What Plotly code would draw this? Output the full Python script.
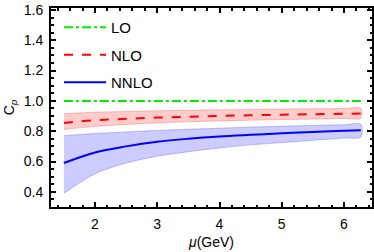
import plotly.graph_objects as go

mu = [1.5, 2.0, 2.5, 3.0, 3.5, 4.0, 4.5, 5.0, 5.5, 6.0, 6.27]
lo = [1.0] * len(mu)
nlo = [0.855, 0.872, 0.882, 0.890, 0.896, 0.901, 0.905, 0.909, 0.912, 0.915, 0.917]
nlo_up = [0.915, 0.925, 0.930, 0.935, 0.938, 0.941, 0.944, 0.946, 0.948, 0.950, 0.951]
nlo_lo = [0.812, 0.832, 0.845, 0.855, 0.862, 0.868, 0.873, 0.877, 0.881, 0.884, 0.886]
nnlo = [0.590, 0.660, 0.700, 0.730, 0.750, 0.765, 0.776, 0.786, 0.795, 0.803, 0.807]
nnlo_up = [0.770, 0.785, 0.795, 0.805, 0.813, 0.820, 0.827, 0.833, 0.838, 0.843, 0.846]
nnlo_lo = [0.390, 0.520, 0.590, 0.635, 0.665, 0.690, 0.710, 0.725, 0.740, 0.755, 0.762]

FONT = "Liberation Sans, Arial, sans-serif"
fig = go.Figure()

def band(up, low, fillc, linec):
    fig.add_trace(go.Scatter(x=mu + mu[::-1], y=up + low[::-1], fill="toself",
                             fillcolor=fillc, mode="lines",
                             line=dict(color=linec, width=0.8, shape="spline", smoothing=0.8),
                             showlegend=False, hoverinfo="skip"))

band(nlo_up, nlo_lo, "rgba(255,0,0,0.2)", "rgba(255,80,80,0.45)")
band(nnlo_up, nnlo_lo, "rgba(0,0,255,0.2)", "rgba(80,80,255,0.45)")

fig.add_trace(go.Scatter(x=mu, y=lo, mode="lines", name="LO", legendgroup="a",
                         line=dict(color="#00ee00", width=2, dash="dashdot")))
fig.add_trace(go.Scatter(x=mu, y=nlo, mode="lines", name="NLO", legendgroup="b",
                         line=dict(color="#ff0000", width=2, dash="dash", shape="spline")))
fig.add_trace(go.Scatter(x=mu, y=nnlo, mode="lines", name="NNLO", legendgroup="c",
                         line=dict(color="#0000ff", width=2, shape="spline")))

axis_common = dict(showgrid=False, zeroline=False, showline=True, linecolor="black",
                   linewidth=2, mirror="ticks", ticks="inside", ticklen=5, tickwidth=1.5,
                   tickcolor="black", automargin=False,
                   tickfont=dict(family=FONT, size=14, color="black"))

fig.update_xaxes(range=[1.293, 6.45], dtick=1, tick0=0, ticklabelstandoff=3,
                 minor=dict(ticks="inside", ticklen=2.5, tickwidth=1.5, dtick=0.2, tick0=0, tickcolor="black"),
                 title=dict(text="<i>μ</i>(GeV)", font=dict(family=FONT, size=14, color="black"), standoff=6),
                 **axis_common)
fig.update_yaxes(range=[0.30, 1.613], dtick=0.2, tick0=0, tickformat=".1f", ticklabelstandoff=3,
                 minor=dict(ticks="inside", ticklen=2.5, tickwidth=1.5, dtick=0.05, tick0=0, tickcolor="black"),
                 title=dict(text="C<sub><i>p</i></sub>", font=dict(family=FONT, size=14, color="black"), standoff=6),
                 **axis_common)

fig.update_layout(width=374, height=252, margin=dict(l=51, r=2, t=8, b=45),
                  plot_bgcolor="white", paper_bgcolor="white",
                  font=dict(family=FONT, size=14, color="black"),
                  legend=dict(x=0.025, y=0.985, xanchor="left", yanchor="top",
                              bgcolor="rgba(0,0,0,0)", tracegroupgap=5, itemwidth=42,
                              font=dict(family=FONT, size=15, color="black")))

fig.write_html("out.html", config={"displayModeBar": False},
               post_script="document.body.style.margin='0px';")
